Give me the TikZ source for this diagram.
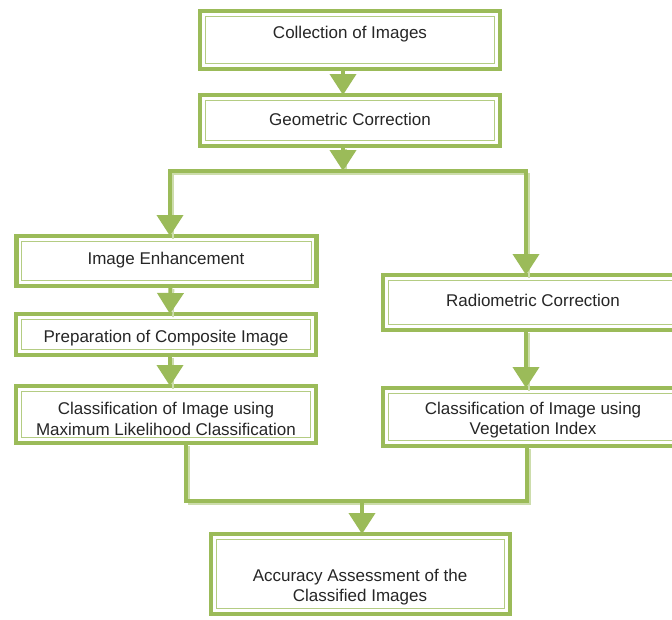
\documentclass[tikz,border=0pt]{standalone}
\usepackage{fontspec}
\setmainfont{Liberation Sans}
\usetikzlibrary{arrows.meta}
\definecolor{grn}{RGB}{155,187,89}
\colorlet{grnlight}{grn!50!white}
\colorlet{grninner}{grn!75!white}
\tikzset{
  box/.style={draw=grn, line width=4.5pt, fill=white, rectangle, inner sep=0pt, outer sep=0pt,
    path picture={\draw[grninner, line width=1.3pt]
      ([shift={(5.2pt,-5.2pt)}]path picture bounding box.north west) rectangle
      ([shift={(-5.2pt,5.2pt)}]path picture bounding box.south east);}},
  txt/.style={font=\fontsize{17}{20.4}\selectfont, align=center, inner sep=0pt, text=black!85},
  line/.style={draw=grn, line width=4pt},
  arrow/.style={line, -{Triangle[width=26pt,length=21pt]}},
  shade/.style={draw=grnlight, line width=1.6pt, transform canvas={shift={(3pt,-3pt)}}}
}
\begin{document}
\begin{tikzpicture}[x=1pt,y=-1pt]
\useasboundingbox (0,0) rectangle (672,619);
\clip (0,0) rectangle (672,619);
% boxes
\node[box, minimum width=300pt, minimum height=58pt] (A) at (350,40) {};
\node[box, minimum width=300pt, minimum height=51pt] (B) at (350,120.5) {};
\node[box, minimum width=300pt, minimum height=50pt] (C) at (166.5,261) {};
\node[box, minimum width=300pt, minimum height=41pt] (D) at (166,334.5) {};
\node[box, minimum width=300pt, minimum height=57pt] (E) at (166,414.5) {};
\node[box, minimum width=300pt, minimum height=55pt] (F) at (533,302.5) {};
\node[box, minimum width=300pt, minimum height=58pt] (G) at (533,417) {};
\node[box, minimum width=299pt, minimum height=80pt] (H) at (360.5,574) {};
% texts
\node[txt] (At) at (350,34) {Collection of Images};
\node[txt] (Bt) at (350,119) {Geometric Correction};
\node[txt] (Ct) at (166,260) {Image Enhancement};
\node[txt] (Dt) at (166,338) {Preparation of Composite Image};
\node[txt] (Et) at (166,419) {Classification of Image using\\Maximum Likelihood Classification};
\node[txt] (Ft) at (533,300) {Radiometric Correction};
\node[txt] (Gt) at (533,420) {Classification of Image using\\Vegetation Index};
\node[txt] (Ht) at (360,587) {Accuracy Assessment of the\\Classified Images};
% junction points
\coordinate (split) at (343,171);
\coordinate (mR) at (527,501);
\coordinate (mC) at (362,501);
% shadows of connectors
\draw[shade] ([xshift=-7pt]B.south) -- (split);
\draw[shade] (split) -| ([xshift=3.5pt]C.north);
\draw[shade] (split) -| ([xshift=-7pt]F.north);
\draw[shade] ([xshift=4pt]C.south) -- ([xshift=4pt]D.north);
\draw[shade] ([xshift=4pt]D.south) -- ([xshift=4pt]E.north);
\draw[shade] ([xshift=-7pt]F.south) -- ([xshift=-7pt]G.north);
\draw[shade] ([xshift=20pt]E.south) |- (mR) -- ([xshift=-6pt]G.south);
% connectors
\draw[arrow] ([xshift=-7pt]A.south) -- ([xshift=-7pt]B.north);
\draw[arrow] ([xshift=-7pt]B.south) -- (split);
\draw[arrow] (split) -| ([xshift=3.5pt]C.north);
\draw[arrow] (split) -| ([xshift=-7pt]F.north);
\draw[arrow] ([xshift=4pt]C.south) -- ([xshift=4pt]D.north);
\draw[arrow] ([xshift=4pt]D.south) -- ([xshift=4pt]E.north);
\draw[arrow] ([xshift=-7pt]F.south) -- ([xshift=-7pt]G.north);
\draw[line] ([xshift=20pt]E.south) |- (mR) -- ([xshift=-6pt]G.south);
\draw[arrow] (mC) -- ([xshift=1.5pt]H.north);
\end{tikzpicture}
\end{document}
